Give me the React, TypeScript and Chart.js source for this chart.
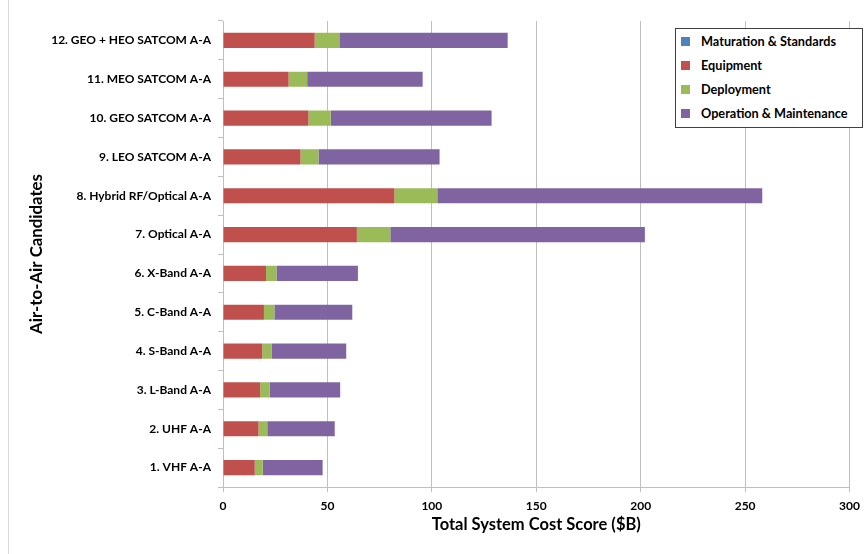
import { useEffect, useRef } from "react";
import { Chart, registerables } from "chart.js";

Chart.register(...registerables);

const categories = [
  "1. VHF A-A",
  "2. UHF A-A",
  "3. L-Band A-A",
  "4. S-Band A-A",
  "5. C-Band A-A",
  "6. X-Band A-A",
  "7. Optical A-A",
  "8. Hybrid RF/Optical A-A",
  "9. LEO SATCOM A-A",
  "10. GEO SATCOM A-A",
  "11. MEO SATCOM A-A",
  "12. GEO + HEO SATCOM A-A",
];
const maturation = [0, 0, 0, 0, 0, 0, 0, 0, 0, 0, 0, 0];
const equipment = [15.2, 17.0, 17.8, 18.8, 19.6, 20.6, 64.1, 82.1, 37.1, 40.9, 31.4, 43.9];
const deployment = [3.8, 4.2, 4.6, 4.6, 5.0, 5.0, 16.0, 20.5, 8.6, 10.7, 8.9, 11.8];
const operation = [28.7, 32.3, 33.7, 35.6, 37.3, 39.0, 121.9, 155.6, 58.0, 77.0, 55.3, 80.6];
const seriesNames = ["Maturation & Standards", "Equipment", "Deployment", "Operation & Maintenance"];
const seriesColors = ["#4F81BD", "#C0504D", "#9BBB59", "#8064A2"];
const xMin = 0;
const xMax = 300;
const xStep = 50;

const FONT = "Lato, 'Open Sans', sans-serif";

export default function App() {
  const ref = useRef<HTMLCanvasElement | null>(null);

  useEffect(() => {
    document.body.style.margin = "0";
    const canvas = ref.current;
    if (!canvas) return;
    const values = [maturation, equipment, deployment, operation];
    const chart = new Chart(canvas, {
      type: "bar",
      data: {
        labels: categories,
        datasets: values.map((v, i) => ({
          label: seriesNames[i],
          data: v,
          backgroundColor: seriesColors[i],
          borderWidth: 0,
          barPercentage: 0.39,
          categoryPercentage: 1.0,
        })),
      },
      options: {
        indexAxis: "y",
        animation: false,
        responsive: false,
        layout: { padding: { top: 21, right: 17, left: 0, bottom: 0 } },
        plugins: {
          legend: { display: false },
          tooltip: { enabled: false },
        },
        scales: {
          x: {
            stacked: true,
            min: xMin,
            max: xMax,
            ticks: {
              stepSize: xStep,
              color: "#000",
              padding: 7,
              font: { family: FONT, size: 12, weight: "bold" },
            },
            grid: { color: "#bfbfbf", lineWidth: 1, tickLength: 5 },
            border: { color: "#bfbfbf" },
            title: {
              display: true,
              text: "Total System Cost Score ($B)",
              color: "#000",
              font: { family: FONT, size: 16.5, weight: "bold" },
              padding: { top: 0, bottom: 19 },
            },
            afterFit: (s: any) => {
              s.height = 67;
            },
          },
          y: {
            stacked: true,
            reverse: true,
            ticks: {
              color: "#000",
              padding: 7,
              font: { family: FONT, size: 12, weight: "bold" },
            },
            grid: { drawOnChartArea: false, color: "#bfbfbf", tickLength: 5 },
            border: { color: "#bfbfbf" },
            title: {
              display: true,
              text: "Air-to-Air Candidates",
              color: "#000",
              font: { family: FONT, size: 16.8, weight: "bold" },
              padding: { top: 27, bottom: 0 },
            },
            afterFit: (s: any) => {
              s.width = 223;
            },
          },
        },
      },
    });
    return () => chart.destroy();
  }, []);

  return (
    <div style={{ position: "relative", width: 867, height: 554, background: "#fff", overflow: "hidden" }}>
      <canvas ref={ref} width={867} height={554} style={{ display: "block" }} />
      <div style={{ position: "absolute", left: 8, top: 0, width: 1, height: 554, background: "#d9d9d9" }} />
      <div
        style={{
          position: "absolute",
          left: 675,
          top: 28,
          width: 188,
          height: 100,
          boxSizing: "border-box",
          border: "1px solid #404040",
          background: "#fff",
          fontFamily: FONT,
          fontWeight: "bold",
          fontSize: 12.7,
          color: "#000",
        }}
      >
        {seriesNames.map((n, i) => (
          <div
            key={n}
            style={{
              position: "absolute",
              left: 5,
              top: 4 + i * 24,
              height: 16,
              display: "flex",
              alignItems: "center",
              whiteSpace: "nowrap",
            }}
          >
            <span style={{ display: "inline-block", width: 9, height: 9, background: seriesColors[i], marginRight: 11 }} />
            <span>{n}</span>
          </div>
        ))}
      </div>
    </div>
  );
}
